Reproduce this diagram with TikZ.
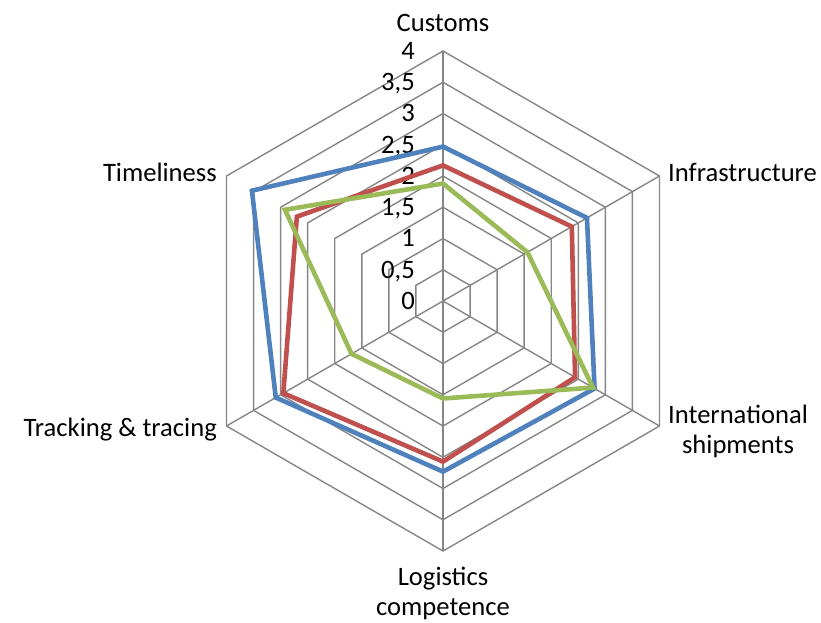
\documentclass[tikz,border=0pt]{standalone}
\usepackage{fontspec}
\setmainfont{Carlito}
\definecolor{gridgray}{HTML}{868686}
\definecolor{serblue}{HTML}{4F81BD}
\definecolor{serred}{HTML}{C0504D}
\definecolor{sergreen}{HTML}{9BBB59}
\tikzset{
    grid line/.style = {
        draw = gridgray,
        line width = 1.4pt,
        },
    series/.style = {
        line width = 4.6pt,
        line join = miter,
        },
    blue series/.style = {
        series,
        draw = serblue,
        },
    red series/.style = {
        series,
        draw = serred,
        },
    green series/.style = {
        series,
        draw = sergreen,
        },
    axis label/.style = {
        inner sep = 0pt,
        font = \fontsize{26.6}{30}\selectfont,
        },
    tick label/.style = {
        inner sep = 0pt,
        anchor = base east,
        font = \fontsize{26.6}{30}\selectfont,
        }
}
\begin{document}
\begin{tikzpicture}[x=62.5pt, y=62.5pt]
            \useasboundingbox (-7.088,-5.136) rectangle (6.048,4.816);

            % web
            \foreach \r in {0.5,1,...,4}
                \draw[grid line] (90:\r) -- (30:\r) -- (-30:\r) -- (-90:\r) -- (-150:\r) -- (150:\r) -- cycle;
            \foreach \a in {90,30,...,-150}
                \draw[grid line] (0,0) -- (\a:4);

            % scale
            \foreach \t [count=\i] in {0,{0,5},1,{1,5},2,{2,5},3,{3,5},4}
                \node[tick label] (tick\i) at (-0.448, {(\i-1)*0.5-0.135}) {\t};

            % series
            \draw[blue series] (90:2.47) -- (30:2.66) -- (-30:2.8) -- (-90:2.73) -- (210:3.09) -- (150:3.53) -- cycle;
            \draw[red series] (90:2.17) -- (30:2.38) -- (-30:2.44) -- (-90:2.57) -- (210:2.95) -- (150:2.70) -- cycle;
            \draw[green series] (90:1.88) -- (30:1.56) -- (-30:2.77) -- (-90:1.56) -- (210:1.69) -- (150:2.92) -- cycle;

            \node[axis label] (customs) at (0,4.448) {Customs};
            \node[axis label, anchor=west] (infra) at (3.6,2.064) {Infrastructure};
            \node[axis label, anchor=west, align=center] (intl) at (3.6,-2.08) {International\\shipments};
            \node[axis label, align=center] (logistics) at (0,-4.672) {Logistics\\competence};
            \node[axis label, anchor=east] (tracking) at (-3.616,-2.064) {Tracking \& tracing};
            \node[axis label, anchor=east] (timeliness) at (-3.616,2.064) {Timeliness};
        \end{tikzpicture}
\end{document}
